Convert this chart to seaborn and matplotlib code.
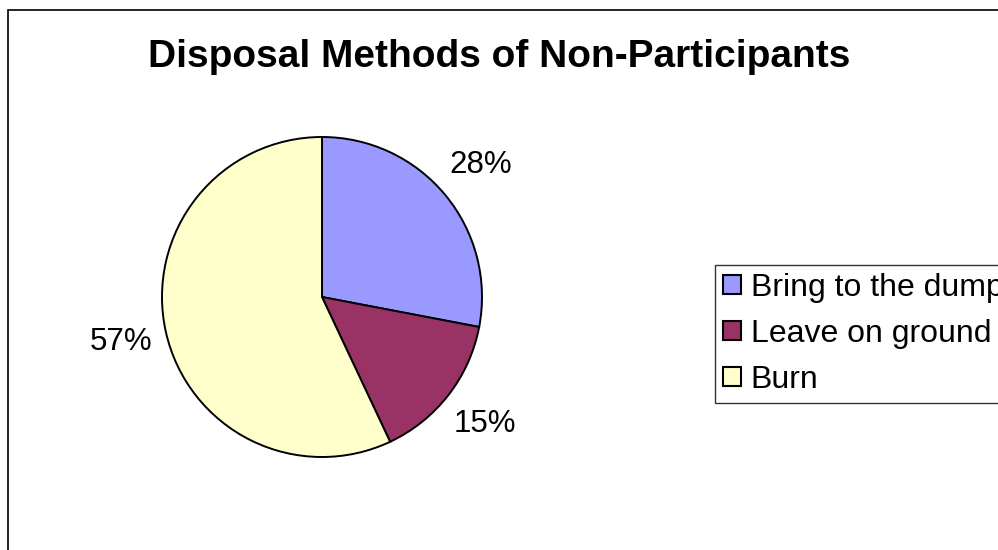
import matplotlib
matplotlib.use("Agg")
import matplotlib.pyplot as plt
import matplotlib.patches as mpatches
import seaborn as sns

sns.set_theme(style="white")
plt.rcParams['font.family'] = ['Liberation Sans', 'DejaVu Sans']
plt.rcParams['text.color'] = 'black'

# Data
categories = ['Bring to the dump', 'Leave on ground', 'Burn']
shares = [28, 15, 57]
colors = ['#9999FF', '#993366', '#FFFFCC']
title = "Disposal Methods of Non-Participants"

W, H = 998, 550
fig = plt.figure(figsize=(W / 100, H / 100), dpi=100)
ax = fig.add_axes([0, 0, 1, 1])

wedges, texts, autotexts = ax.pie(
    shares, colors=colors, startangle=90, counterclock=False,
    center=(322, H - 297), radius=160,
    autopct='%1.0f%%', pctdistance=1.29,
    wedgeprops=dict(edgecolor='black', linewidth=1.4),
    textprops=dict(fontsize=22.5, color='black'),
)

ax.set_xlim(0, W)
ax.set_ylim(0, H)
ax.set_aspect('auto')
ax.axis('off')

# chart area border (extends past the right/bottom edge)
border = mpatches.Rectangle((8, -20), 1200, H - 10 + 20, fill=False,
                            edgecolor='black', linewidth=1.2)
ax.add_patch(border)

fig.text(0.5, 1 - 57 / H, title, ha='center', va='center',
         fontsize=28, fontweight='bold', color='black')

handles = [mpatches.Patch(facecolor=c, edgecolor='black', linewidth=1.5)
           for c in colors]
leg = fig.legend(handles, categories, loc='upper left',
                 bbox_to_anchor=(715 / W, 1 - 265 / H), borderaxespad=0,
                 fontsize=23, frameon=True, fancybox=False, shadow=False,
                 handlelength=0.56, handleheight=0.56, handletextpad=0.31,
                 labelspacing=0.5, borderpad=0.25, labelcolor='black')
leg.get_frame().set_edgecolor('black')
leg.get_frame().set_linewidth(1.0)
leg.get_frame().set_facecolor('white')

fig.savefig("out.png", dpi=100)
